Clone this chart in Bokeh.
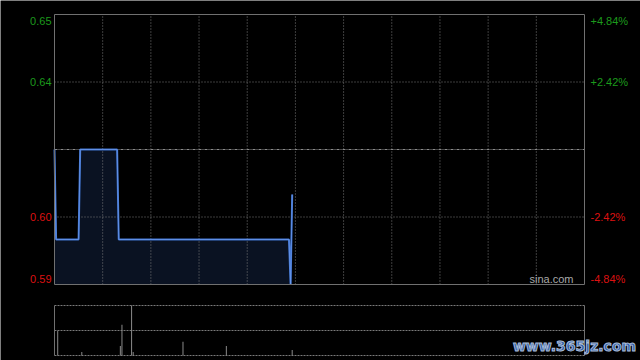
from bokeh.plotting import figure
from bokeh.models import Range1d
from bokeh.core.properties import value
from bokeh.embed import file_html
from bokeh.resources import INLINE

# ---------------- data ----------------
PREV_CLOSE = 0.62
SESSION_MINUTES = 330            # 09:30-12:00 + 13:00-16:00
price_minutes = [0, 1, 15, 16, 39, 40, 146, 147, 148]
price_values = [0.62, 0.60, 0.60, 0.62, 0.62, 0.60, 0.60, 0.59, 0.61]
vol_minutes = [2, 17, 41, 42, 48, 49, 80, 107, 148]
vol_values = [99000, 14000, 38000, 123000, 200000, 14000, 55000, 38000, 22000]
pct_ticks = [4.84, 2.42, -2.42, -4.84]
left_tick_labels = ["0.65", "0.64", "0.60", "0.59"]
right_tick_labels = ["+4.84%", "+2.42%", "-2.42%", "-4.84%"]
time_grid_minutes = [30, 60, 90, 120, 150, 180, 210, 240, 270, 300]

# ---------------- style / layout ----------------
W, H = 640, 360
BOX_L, BOX_R = 54, 584          # price & volume panel, px
PR_T, PR_B = 14, 284            # price panel top/bottom px
VO_T, VO_B = 305, 355           # volume panel top/bottom px
EDGE_NUDGE = 6                  # px the extreme tick labels are pushed inward
GREEN = "#1c9a1c"
RED = "#dd1111"
GRID = "#7a7a7a"
BORDER = "#707070"
FONT = "Liberation Sans"

tick_values = [PREV_CLOSE * (1 + p / 100.0) for p in pct_ticks]
y_top = max(tick_values)
y_bot = min(tick_values)
vmax = max(vol_values)

# ranges so that the full canvas is the frame
xs = SESSION_MINUTES / (BOX_R - BOX_L)
x_range = Range1d(-BOX_L * xs, SESSION_MINUTES + (W - BOX_R) * xs)
ys = (y_top - y_bot) / (PR_B - PR_T)
y_range = Range1d(y_bot - (H - PR_B) * ys, y_top + PR_T * ys)
vs = vmax / (VO_B - VO_T)
v_range = Range1d(-(H - VO_B) * vs, vmax + VO_T * vs)

p = figure(width=W, height=H, x_range=x_range, y_range=y_range,
           x_axis_location=None, y_axis_location=None, toolbar_location=None,
           output_backend="svg", min_border=0)
p.extra_y_ranges = {"vol": v_range}
p.grid.visible = False
p.background_fill_color = "black"
p.border_fill_color = "black"
p.outline_line_color = None

# ---- price panel ----
p.varea(x=price_minutes, y1=[y_bot] * len(price_minutes), y2=price_values,
        fill_color="#0a1222", fill_alpha=1.0)

# vertical grid
p.segment(x0=time_grid_minutes, y0=[y_bot] * len(time_grid_minutes),
          x1=time_grid_minutes, y1=[y_top] * len(time_grid_minutes),
          line_color=GRID, line_dash="1 2", line_width=1)
# horizontal grid (inner ticks)
inner = [v for v in tick_values if v not in (y_top, y_bot)]
p.segment(x0=[0] * len(inner), y0=inner, x1=[SESSION_MINUTES] * len(inner), y1=inner,
          line_color=GRID, line_dash="1 2", line_width=1)
# previous close
p.segment(x0=[0], y0=[PREV_CLOSE], x1=[SESSION_MINUTES], y1=[PREV_CLOSE],
          line_color="#8c8c8c", line_dash="3 1 1 1", line_width=1)

p.line(price_minutes, price_values, line_color="#3f72cc", line_width=2)
p.line(price_minutes, price_values, line_color="#6f9cf0", line_width=0.7)

# box
p.quad(left=[0], right=[SESSION_MINUTES], top=[y_top], bottom=[y_bot],
       fill_color=None, line_color=BORDER, line_width=1)

for val, pct, ltxt, rtxt in zip(tick_values, pct_ticks, left_tick_labels, right_tick_labels):
    col = GREEN if pct > 0 else RED
    ypos = val
    if val == y_top:
        ypos = val - EDGE_NUDGE * ys
    elif val == y_bot:
        ypos = val + EDGE_NUDGE * ys
    p.text(x=[0], y=[ypos], text=[ltxt], x_offset=-3, text_align="right",
           text_baseline="middle", text_color=col, text_font=value(FONT),
           text_font_size=value("11px"))
    p.text(x=[SESSION_MINUTES], y=[ypos], text=[rtxt], x_offset=6, text_align="left",
           text_baseline="middle", text_color=col, text_font=value(FONT),
           text_font_size=value("11px"))

p.text(x=[SESSION_MINUTES], y=[y_bot + EDGE_NUDGE * ys], text=["sina.com"], x_offset=-11,
       text_align="right", text_baseline="middle", text_color="#a8a8a8",
       text_font=value(FONT), text_font_size=value("11px"))

# ---- volume panel ----
vgrid_vals = [0, vmax / 2, vmax]
p.segment(x0=[0] * 3, y0=vgrid_vals, x1=[SESSION_MINUTES] * 3, y1=vgrid_vals,
          line_color=GRID, line_dash="2 1", line_width=1, y_range_name="vol")
p.segment(x0=[0, SESSION_MINUTES], y0=[0, 0], x1=[0, SESSION_MINUTES], y1=[vmax, vmax],
          line_color=BORDER, line_width=1, y_range_name="vol")
p.segment(x0=vol_minutes, y0=[0] * len(vol_minutes), x1=vol_minutes, y1=vol_values,
          line_color="#8a8a8a", line_width=1, y_range_name="vol")

p.text(x=[SESSION_MINUTES], y=[vmax * 0.2], text=["www.365jz.com"], x_offset=-10,
       text_align="center", text_baseline="middle", text_color="#2c5aa6",
       text_outline_color="#a9bcd8", text_font=value("DejaVu Sans"),
       text_font_style="bold", text_font_size=value("14px"), y_range_name="vol")

open("out.html", "w").write(file_html(p, INLINE))
